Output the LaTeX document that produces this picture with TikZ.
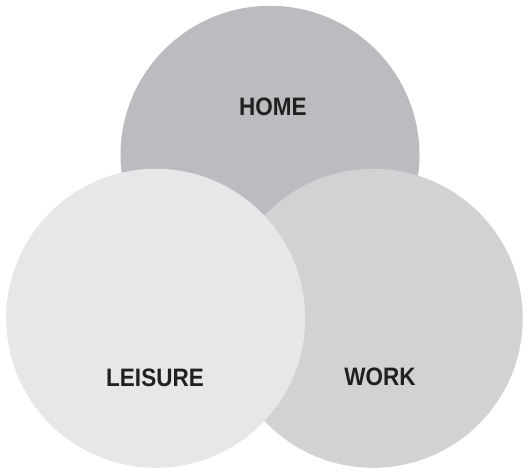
\documentclass[tikz,border=0pt]{standalone}
\usepackage{fontspec}
\setmainfont{Liberation Sans}
\usetikzlibrary{positioning}

\definecolor{homegray}{HTML}{BBBCC0}
\definecolor{workgray}{HTML}{D1D2D4}
\definecolor{leisuregray}{HTML}{E6E7E8}
\definecolor{textdark}{HTML}{231F20}

% labels are set a little taller than the plain font
\newcommand{\tallcaps}[1]{\scalebox{1}[1.12]{#1}}

\begin{document}
\begin{tikzpicture}[x=1pt, y=-1pt,
  c/.style={circle, inner sep=0pt, minimum size=299pt},
  lbl/.style={font=\bfseries\fontsize{22.5}{26}\selectfont, text=textdark},
]
\useasboundingbox (0,0) rectangle (530,472);
%back circle
\node[c, fill=homegray] (home) at (270,155.3) {};
%middle circle
\node[c, fill=workgray] (work) at (373.2,318.3) {};
%front circle
\node[c, fill=leisuregray] (leisure) at (155.7,318.3) {};
%labels
\node[lbl] (home-lbl) at (272.8,107) {\tallcaps{HOME}};
\node[lbl] (leisure-lbl) at (155,378.3) {\tallcaps{LEISURE}};
\node[lbl] (work-lbl) at (380,376.7) {\tallcaps{WORK}};
\end{tikzpicture}
\end{document}
